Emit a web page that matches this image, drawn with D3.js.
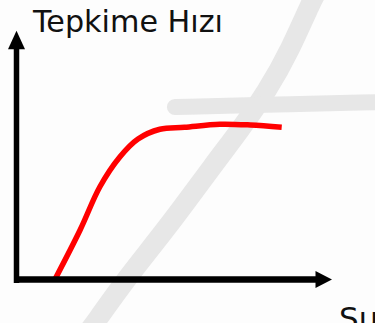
<!DOCTYPE html>
<html>
<head>
<meta charset="utf-8">
<script src="https://cdn.jsdelivr.net/npm/d3@7"></script>
<style>
  html, body { margin: 0; padding: 0; background: #fdfdfd; }
  #vis { width: 375px; height: 323px; overflow: hidden; }
  text { font-family: "DejaVu Sans", "Noto Sans", sans-serif; fill: #111; }
</style>
</head>
<body>
<div id="vis"></div>
<script>
// reaction rate vs substrate amount (no numeric ticks in the original)
const substrate = [12.8, 21.2, 27.8, 34.5, 40.5, 47.8, 56, 67.8, 78, 88.4];
const rate      = [0,    19.8, 37.1, 49.1, 56.2, 60.1, 60.9, 62.1, 61.8, 60.9];

// background watermark strokes
const markDiagX = [100.5, 98.5, 91.2, 83.8, 73.8, 66.8, 50.5, 36.2, 26.2, 22.8];
const markDiagY = [115.8, 111.8, 91.8, 75.8, 58.6, 47.8, 21, -0.2, -17.4, -22.6];
const markBarX = [52.8, 81.2, 121.2];
const markBarY = [69, 69.8, 71];

const yLabel = 'Tepkime Hızı';
const xLabel = 'Substrat Miktarı';

const width = 375;
const height = 323;

const svg = d3.select('#vis')
    .append('svg')
    .attr('width', width)
    .attr('height', height);

const xScale = d3.scaleLinear()
    .domain([0, 100])
    .range([16.5, 316.5]);

const yScale = d3.scaleLinear()
    .domain([0, 100])
    .range([279.5, 29.5]);

const line = d3.line()
    .x(d => xScale(d[0]))
    .y(d => yScale(d[1]));

// watermark
svg.append('path')
    .datum(d3.zip(markDiagX, markDiagY))
    .attr('d', line.curve(d3.curveBasis))
    .attr('fill', 'none')
    .attr('stroke', '#e7e7e7')
    .attr('stroke-width', 20)
    .attr('stroke-linecap', 'round');

svg.append('path')
    .datum(d3.zip(markBarX, markBarY))
    .attr('d', line.curve(d3.curveBasis))
    .attr('fill', 'none')
    .attr('stroke', '#e7e7e7')
    .attr('stroke-width', 16)
    .attr('stroke-linecap', 'round');

// rate curve
svg.append('path')
    .datum(d3.zip(substrate, rate))
    .attr('d', line.curve(d3.curveCatmullRom))
    .attr('fill', 'none')
    .attr('stroke', '#ff0000')
    .attr('stroke-width', 5.5);

// axes with arrow heads
const x0 = xScale(0), y0 = yScale(0);
const xEnd = xScale(100), yEnd = yScale(92.5);

svg.append('line')
    .attr('x1', x0 - 2.5).attr('x2', xEnd + 2)
    .attr('y1', y0).attr('y2', y0)
    .attr('stroke', '#000')
    .attr('stroke-width', 6.5);

svg.append('path')
    .attr('d', `M${xEnd - 1},${y0 - 8.5}L${xEnd + 15.5},${y0}L${xEnd - 1},${y0 + 8.5}Z`)
    .attr('fill', '#000');

svg.append('line')
    .attr('x1', x0).attr('x2', x0)
    .attr('y1', y0 + 3.5).attr('y2', yEnd)
    .attr('stroke', '#000')
    .attr('stroke-width', 5.5);

svg.append('path')
    .attr('d', `M${x0 - 8.5},${yEnd + 1}L${x0},${yEnd - 17.5}L${x0 + 8.5},${yEnd + 1}Z`)
    .attr('fill', '#000');

// labels
svg.append('text')
    .attr('x', 33)
    .attr('y', 32)
    .attr('font-size', 31)
    .attr('textLength', 190)
    .attr('lengthAdjust', 'spacingAndGlyphs')
    .text(yLabel);

// x label runs past the right edge, as in the original
svg.append('text')
    .attr('x', 339)
    .attr('y', 329)
    .attr('font-size', 31)
    .text(xLabel);
</script>
</body>
</html>
